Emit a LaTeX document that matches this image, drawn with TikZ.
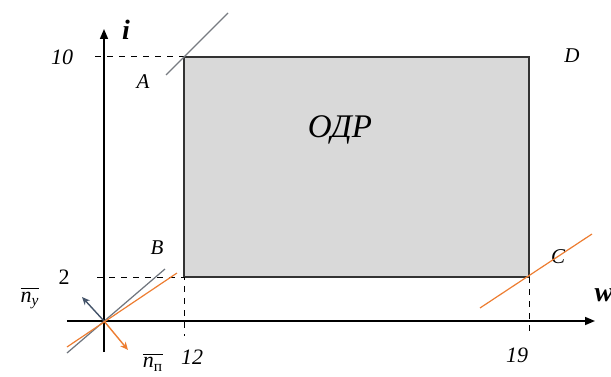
\documentclass[tikz,border=0pt]{standalone}
\usepackage{amsmath}
\usepackage{fontspec}
\setmainfont{Liberation Serif}
\usetikzlibrary{arrows.meta}
\definecolor{odrG}{RGB}{217,217,217}
\definecolor{lnO}{RGB}{237,125,49}
\definecolor{lnB}{RGB}{68,84,106}
\definecolor{lnG}{RGB}{120,124,130}

\begin{document}
\begin{tikzpicture}[x=0.5pt,y=0.5pt,>={Stealth[length=4pt,width=3.5pt]}]
\useasboundingbox (-104,-55) rectangle (507,321);
% region of admissible values
\coordinate (O) at (0,0);
\coordinate (B) at (80,44);
\coordinate (A) at (80,264);
\coordinate (D) at (425,264);
\coordinate (C) at (425,44);
\fill[odrG] (B) rectangle (D);
\draw[line width=0.6pt,black!80] (B) -- (A) -- (D) -- (C) -- cycle;
\node[font=\itshape\fontsize{16.5}{18}\selectfont] (odr) at (236,191) {ОДР};
% axes
\draw[line width=0.75pt,-{Triangle[length=5pt,width=4pt]}] (-37,0) -- (491,0);
\draw[line width=0.75pt,-{Triangle[length=5pt,width=4pt]}] (0,-31) -- (0,292);
\node[font=\bfseries\itshape\fontsize{14}{16}\selectfont] (li) at (22,291) {i};
\node[font=\bfseries\itshape\fontsize{14}{16}\selectfont] (lw) at (500,26) {w};
% bounds
\coordinate (t10) at (-9,264); \coordinate (t2) at (-7,44);
\coordinate (t12) at (80,-15); \coordinate (t19) at (425,-16);
\draw[dashed,line width=0.5pt] (t10) -- (A);
\draw[dashed,line width=0.5pt] (t2) -- (B) -- (t12);
\draw[dashed,line width=0.5pt] (C) -- (t19);
\node[font=\itshape\fontsize{11}{13}\selectfont] (n10) at (-42,264) {10};
\node[font=\fontsize{11}{13}\selectfont] (n2) at (-40,44) {2};
\node[font=\itshape\fontsize{11}{13}\selectfont] (n12) at (88,-36) {12};
\node[font=\itshape\fontsize{11}{13}\selectfont] (n19) at (413,-34) {19};
% corner labels
\node[font=\itshape\fontsize{10.5}{12}\selectfont] (lA) at (39,239) {A};
\node[font=\itshape\fontsize{10.5}{12}\selectfont] (lB) at (53,73) {B};
\node[font=\itshape\fontsize{10.5}{12}\selectfont] (lC) at (454,64) {C};
\node[font=\itshape\fontsize{10.5}{12}\selectfont] (lD) at (468,265) {D};
% level lines
\draw[lnG,line width=0.6pt] (62,246) -- (124,308);
\draw[lnG!80!lnB,line width=0.6pt] (-37,-32) -- (61,52);
\draw[lnO,line width=0.6pt] (-37,-26) -- (73,48);
\draw[lnO,line width=0.6pt] (376,13) -- (488,87);
% normals
\coordinate (ny) at (-22,24); \coordinate (np) at (24,-29);
\draw[->,lnB,line width=0.7pt] (O) -- (ny);
\draw[->,lnO,line width=0.7pt] (O) -- (np);
\node[font=\fontsize{11}{13}\selectfont] (lny) at (-74,23) {$\overline{\textit{n}_{\textit{y}}}$};
\node[font=\fontsize{11}{13}\selectfont,inner sep=1pt] (lnp) at (49,-41) {$\overline{\textit{n}_{\text{п}}}$};
\end{tikzpicture}
\end{document}
